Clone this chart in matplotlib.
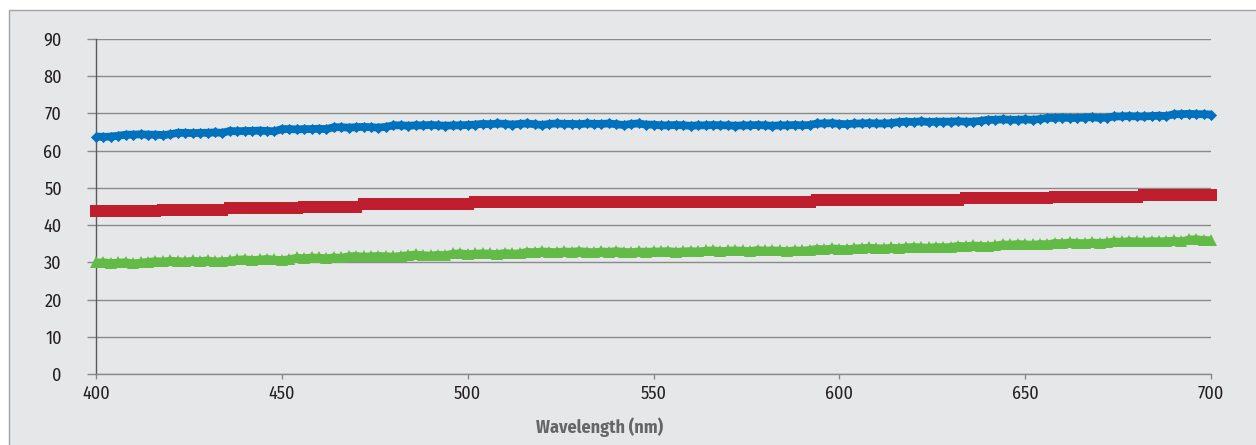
import numpy as np
import matplotlib
matplotlib.use("Agg")
import matplotlib.pyplot as plt
from matplotlib.patches import Rectangle

# ---- data (2 nm steps) ----
wavelength = list(range(400, 701, 2))

blue_series = [
    63.8, 63.7, 63.8,
    64.0,
    64.3, 64.3, 64.4, 64.3, 64.3, 64.2, 64.4,
    64.8, 64.8, 64.7, 64.8, 64.8, 64.9, 64.8,
    65.3, 65.2, 65.3, 65.3, 65.4, 65.3, 65.2,
    65.8, 65.8, 65.7, 65.8, 65.8, 65.9, 65.8,
    66.3, 66.3, 66.2, 66.3, 66.4, 66.3, 66.2, 66.4,
    66.8, 66.8, 66.7, 66.8, 66.8, 66.9, 66.8, 66.7, 66.8, 66.8, 66.9, 67.0,
    67.2, 67.1, 67.3, 67.2, 67.0, 67.2, 67.3, 67.1, 66.9, 67.2, 67.3, 67.2,
    67.2, 67.1, 67.3, 67.2, 67.2, 67.3, 67.1, 66.9, 67.2, 67.3, 67.0, 67.0,
    66.8, 66.8, 66.9, 66.8, 66.7, 66.8, 66.8, 66.9, 66.8, 66.8, 66.7, 66.8,
    66.8, 66.9, 66.8, 66.7, 66.8, 66.8, 66.9, 66.8, 66.9,
    67.3, 67.3, 67.4, 67.2, 67.1, 67.3, 67.3, 67.4, 67.3, 67.3, 67.4,
    67.7, 67.8, 67.7, 67.9, 67.7, 67.8,
    67.8, 67.8, 67.9, 67.8, 67.8, 68.0,
    68.3, 68.3, 68.4, 68.3, 68.3, 68.4, 68.3, 68.5,
    68.8, 68.8, 68.9, 68.8, 68.8, 68.9, 69.0, 68.8, 68.9,
    69.2, 69.2, 69.3, 69.2, 69.2, 69.3, 69.4, 69.3,
    69.8, 69.8, 69.9, 69.8, 69.8, 69.7,
]

red_series = [
    43.9, 43.9, 43.9, 43.9, 43.9, 43.9, 43.9, 43.9, 43.9,
    44.1, 44.1, 44.1, 44.1, 44.1, 44.1, 44.1, 44.1, 44.1,
    44.5, 44.5, 44.5, 44.5, 44.5, 44.5, 44.5, 44.5, 44.5, 44.5,
    45.0, 45.0, 45.0, 45.0, 45.0, 45.0, 45.0, 45.0,
    45.6, 45.6, 45.6, 45.6, 45.6, 45.6, 45.6, 45.6, 45.6, 45.6, 45.6, 45.6, 45.6, 45.6, 45.6,
    46.3, 46.3, 46.3, 46.3, 46.3, 46.3, 46.3, 46.3, 46.3, 46.3,
    46.3, 46.3, 46.3, 46.3, 46.3, 46.3, 46.3, 46.3, 46.3, 46.3,
    46.3, 46.3, 46.3, 46.3, 46.3, 46.3, 46.3, 46.3, 46.3, 46.3,
    46.3, 46.3, 46.3, 46.3, 46.3, 46.3, 46.3, 46.3, 46.3, 46.3,
    46.3, 46.3, 46.3, 46.3, 46.3, 46.3,
    46.8, 46.8, 46.8, 46.8, 46.8, 46.8, 46.8, 46.8, 46.8, 46.8,
    46.8, 46.8, 46.8, 46.8, 46.8, 46.8, 46.8, 46.8, 46.8, 46.8,
    47.3, 47.3, 47.3, 47.3, 47.3, 47.3, 47.3, 47.3, 47.3, 47.3, 47.3, 47.3,
    47.6, 47.6, 47.6, 47.6, 47.6, 47.6, 47.6, 47.6, 47.6, 47.6, 47.6, 47.6,
    48.1, 48.1, 48.1, 48.1, 48.1, 48.1, 48.1, 48.1, 48.1, 48.1,
]

green_series = [
    30.0, 30.1, 29.9, 30.0, 30.1, 29.8, 30.0, 30.2,
    30.4, 30.3, 30.5, 30.4, 30.3, 30.5, 30.4, 30.6, 30.3, 30.4, 30.5,
    30.8, 30.9, 30.7, 30.8, 31.0, 30.8, 30.7, 30.9,
    31.3, 31.2, 31.4, 31.3, 31.2, 31.4, 31.3,
    31.7, 31.8, 31.6, 31.7, 31.8, 31.7, 31.6, 31.8,
    32.0, 32.2, 32.0, 31.9, 32.1, 32.0,
    32.4, 32.5, 32.3, 32.4, 32.5, 32.4, 32.3, 32.6, 32.4, 32.5,
    32.9, 32.8, 33.0, 32.9, 32.8, 33.0, 32.9, 33.1, 32.9,
    32.8, 33.0, 32.9, 33.1, 32.9, 32.8, 33.0, 32.9, 33.0,
    33.0, 33.1, 32.9, 33.0, 33.1, 33.0,
    33.2, 33.3, 33.1, 33.2, 33.3, 33.2, 33.1, 33.4, 33.2, 33.3, 33.2, 33.1, 33.3, 33.2, 33.4,
    33.7, 33.6, 33.8, 33.7, 33.6, 33.8,
    33.9, 34.0, 33.9, 33.8, 34.0, 33.9,
    34.1, 34.2, 34.1, 34.0, 34.2, 34.1, 34.2,
    34.5, 34.4, 34.6, 34.5, 34.4, 34.6,
    34.9, 34.8, 35.0, 34.9, 34.8, 35.0, 34.9,
    35.3, 35.2, 35.4, 35.3, 35.2, 35.4, 35.3, 35.4,
    35.7, 35.6, 35.8, 35.7, 35.6, 35.8, 35.7, 35.8, 35.9, 35.7,
    36.2, 36.3, 36.1, 36.0,
]

x_ticks = [400, 450, 500, 550, 600, 650, 700]
y_ticks = [0, 10, 20, 30, 40, 50, 60, 70, 80, 90]
x_label = "Wavelength (nm)"

# ---- style ----
W, H = 1256, 445
FONT = ["Fira Sans Condensed", "DejaVu Sans"]
BLUE, RED, GREEN = "#0071BC", "#BE1E2D", "#62BB46"
GRID = "#8a8a8a"

fig = plt.figure(figsize=(W / 100, H / 100), dpi=100)
fig.patch.set_facecolor("white")

panel = Rectangle((8.5 / W, -0.02), 1.2, (H - 10.5) / H + 0.02,
                  transform=fig.transFigure, facecolor="#e6e7e8",
                  edgecolor="#a3a3a3", lw=1.0, zorder=0)
fig.add_artist(panel)

ax = fig.add_axes([96 / W, 1 - 374 / H, (1211 - 96) / W, (374 - 39) / H])
ax.set_facecolor("none")
ax.set_xlim(400, 700)
ax.set_ylim(0, 90)

ax.set_yticks(y_ticks)
ax.set_xticks(x_ticks)
ax.yaxis.grid(True, color=GRID, lw=1.0)
ax.set_axisbelow(True)

for s in ["top", "right"]:
    ax.spines[s].set_visible(False)
ax.spines["left"].set_color("#5a5a5a")
ax.spines["left"].set_linewidth(1.0)
ax.spines["bottom"].set_color(GRID)
ax.spines["bottom"].set_linewidth(1.0)

ax.tick_params(axis="y", direction="out", length=6.5, width=1.0, color=GRID,
               pad=18.0, labelsize=13, labelcolor="#231f20")
ax.tick_params(axis="x", direction="out", length=3.6, width=1.0, color=GRID,
               pad=4, labelsize=13, labelcolor="#231f20")
for lab in ax.get_xticklabels() + ax.get_yticklabels():
    lab.set_family(FONT)
    lab.set_fontweight("normal")

# series: core line + dense markers
ax.plot(wavelength, green_series, color=GREEN, lw=5.2, marker="^", ms=8.8,
        mew=0, clip_on=False, zorder=3, solid_capstyle="butt")
ax.plot(wavelength, red_series, color=RED, lw=5.0, marker="s", ms=8.6,
        mew=0, clip_on=False, zorder=3, solid_capstyle="butt")
ax.plot(wavelength, blue_series, color=BLUE, lw=5.6, marker="D", ms=5.4,
        mew=0.6, mec=BLUE, clip_on=False, zorder=3, solid_capstyle="butt")

fig.text(600 / W, 1 - 427 / H, x_label, ha="center", va="center",
         fontsize=13, fontweight="bold", color="#666666", family=FONT)

fig.savefig("out.png", dpi=100, facecolor="white")
